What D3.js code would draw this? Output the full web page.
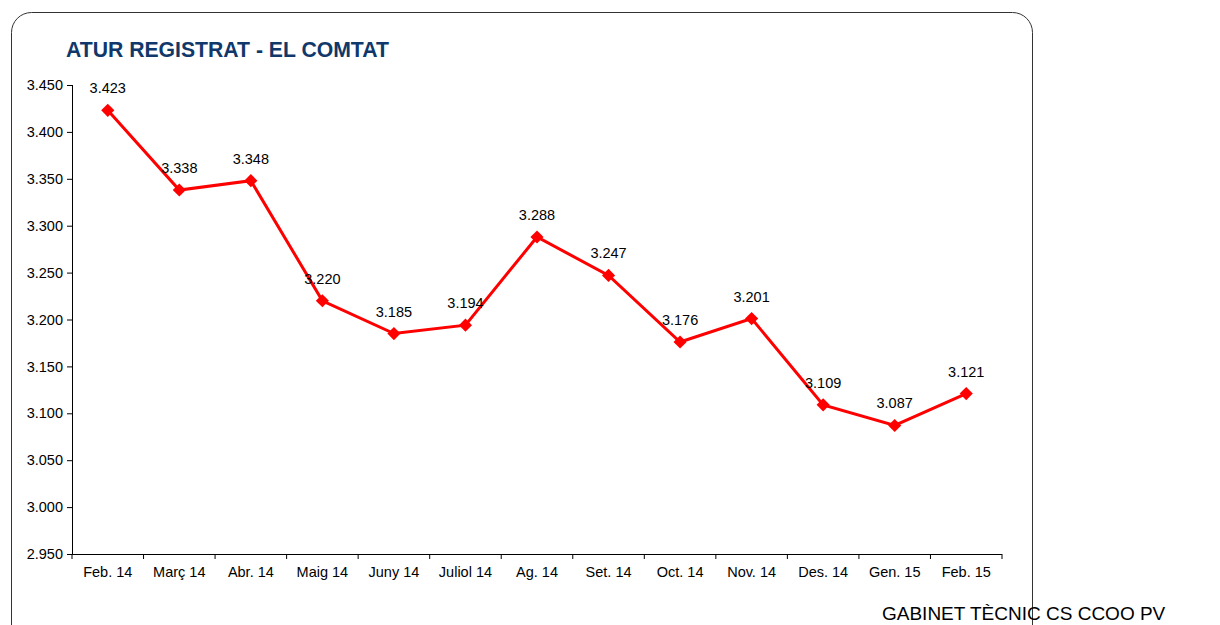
<!DOCTYPE html>
<html><head><meta charset="utf-8">
<script src="https://cdn.jsdelivr.net/npm/d3@7"></script>
<style>body{margin:0;background:#fff;}svg{display:block;font-family:"Liberation Sans",Arial,sans-serif;}</style>
</head><body>
<svg id="c" width="1220" height="625"></svg>
<script>
const categories = ["Feb. 14","Març 14","Abr. 14","Maig 14","Juny 14","Juliol 14","Ag. 14","Set. 14","Oct. 14","Nov. 14","Des. 14","Gen. 15","Feb. 15"];
const values = [3423,3338,3348,3220,3185,3194,3288,3247,3176,3201,3109,3087,3121];
const yTicks = [2950,3000,3050,3100,3150,3200,3250,3300,3350,3400,3450];
const title = "ATUR REGISTRAT - EL COMTAT";
const footer = "GABINET TÈCNIC CS CCOO PV";

const svg = d3.select("#c");
const fmt = v => d3.format(",.0f")(v).replace(",", ".");
const fmtDec = v => (v/1000).toFixed(3);

svg.append("rect").attr("x",11.5).attr("y",12.5).attr("width",1021).attr("height",640)
  .attr("rx",20).attr("ry",20).attr("fill","#fff").attr("stroke","#333").attr("stroke-width",1);

svg.append("text").attr("x",66).attr("y",57).attr("fill","#10386b")
  .attr("font-size",21.2).attr("font-weight","bold").text(title);

const L=72, R=1002, T=85, B=554;
const x = d3.scaleBand().domain(categories).range([L,R]);
const y = d3.scaleLinear().domain([2950,3450]).range([B,T]);

const ya = svg.append("g").attr("transform",`translate(${L},0)`)
  .call(d3.axisLeft(y).tickValues(yTicks).tickSize(5).tickPadding(4).tickFormat(fmtDec));
const xa = svg.append("g").attr("transform",`translate(0,${B})`)
  .call(d3.axisBottom(x).tickSize(0).tickPadding(13));
const bounds = categories.map(c=>x(c)).concat([R]);
xa.selectAll(".bt").data(bounds).enter().append("line")
  .attr("x1",d=>d).attr("x2",d=>d).attr("y1",0).attr("y2",5).attr("stroke","#000");
[ya,xa].forEach(a=>{a.selectAll("path").attr("stroke","#000");a.selectAll("line").attr("stroke","#000");
  a.selectAll("text").attr("font-size",14.5).attr("fill","#000").attr("font-family","Liberation Sans, Arial, sans-serif");});
ya.select(".domain").attr("d",`M0.5,${T}V${B}`);
xa.select(".domain").attr("d",`M${L},0.5H${R}`);

const cx = c => x(c)+x.bandwidth()/2;
const data = categories.map((c,i)=>({c,v:values[i]}));
svg.append("path").datum(data).attr("fill","none").attr("stroke","#ff0000").attr("stroke-width",3)
  .attr("d",d3.line().x(d=>cx(d.c)).y(d=>y(d.v)));
svg.selectAll(".m").data(data).enter().append("path")
  .attr("transform",d=>`translate(${cx(d.c)},${y(d.v)})`)
  .attr("d",d3.symbol().type(d3.symbolDiamond2).size(110)).attr("fill","#ff0000");
svg.selectAll(".lb").data(data).enter().append("text")
  .attr("x",d=>cx(d.c)).attr("y",d=>y(d.v)-17).attr("text-anchor","middle")
  .attr("font-size",14.5).attr("fill","#000").text(d=>fmt(d.v));

svg.append("text").attr("x",882).attr("y",620).attr("font-size",19).attr("fill","#000").text(footer);
</script>
</body></html>
